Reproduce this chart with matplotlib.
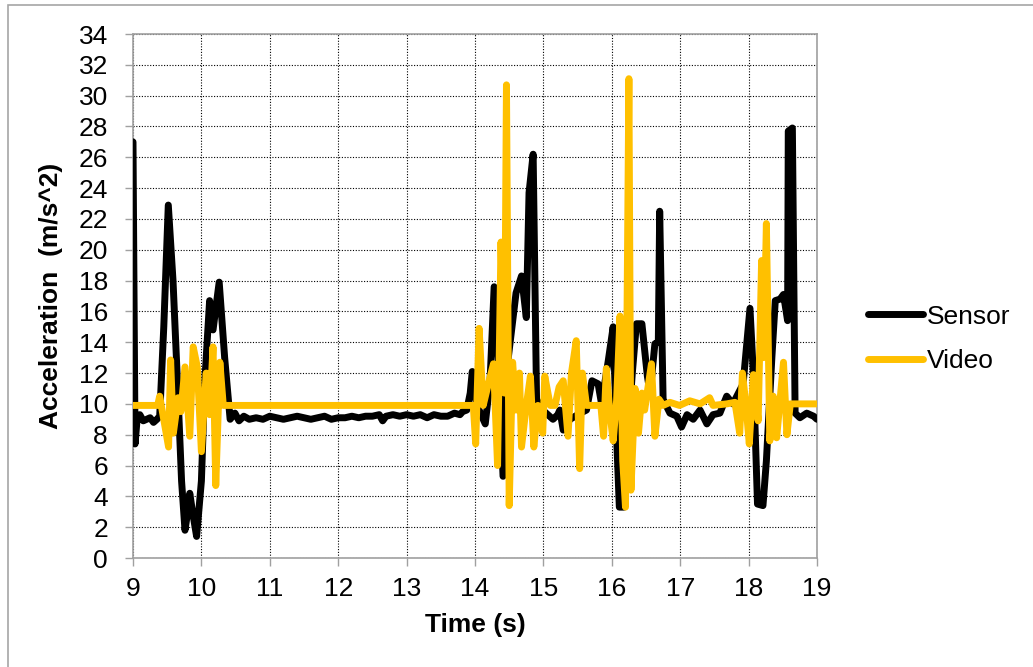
import matplotlib.pyplot as plt
from matplotlib.patches import Rectangle

plt.rcParams['font.family'] = ['Liberation Sans', 'DejaVu Sans']

# Sensor acceleration (time in s, value in m/s^2)
sensor_t = [9.00, 9.03, 9.06, 9.10, 9.15, 9.20, 9.25, 9.30, 9.35, 9.39, 9.45, 9.516,
            9.585, 9.66, 9.71, 9.76, 9.80, 9.83, 9.87, 9.93, 10.00, 10.05, 10.12, 10.17,
            10.26, 10.30, 10.34, 10.42, 10.49, 10.55, 10.62, 10.70, 10.80, 10.90, 11.00,
            11.10, 11.20, 11.30, 11.40, 11.50, 11.60, 11.70, 11.80, 11.90, 12.00, 12.10,
            12.20, 12.30, 12.40, 12.50, 12.60, 12.65, 12.70, 12.80, 12.90, 13.00, 13.10,
            13.20, 13.30, 13.40, 13.50, 13.60, 13.70, 13.78, 13.82, 13.88, 13.93, 13.96,
            14.02, 14.15, 14.22, 14.28, 14.34, 14.41, 14.46, 14.54, 14.60, 14.68, 14.75,
            14.79, 14.85, 14.90, 14.99, 15.14, 15.21, 15.24, 15.29, 15.39, 15.54, 15.63,
            15.71, 15.80, 15.85, 15.95, 16.02, 16.07, 16.11, 16.18, 16.22, 16.30, 16.36,
            16.44, 16.52, 16.56, 16.63, 16.68, 16.70, 16.75, 16.85, 16.95, 17.02, 17.10,
            17.19, 17.29, 17.39, 17.48, 17.58, 17.68, 17.77, 17.92, 18.02, 18.07, 18.13,
            18.21, 18.26, 18.34, 18.39, 18.46, 18.51, 18.57, 18.58, 18.64, 18.68, 18.75,
            18.85, 18.95, 19.00]
sensor_a = [27.0, 7.4, 9.0, 9.3, 8.9, 9.0, 9.1, 8.8, 9.0, 9.2, 15.0, 22.9,
            18.0, 10.4, 5.0, 1.8, 3.0, 4.2, 3.0, 1.4, 5.0, 11.5, 16.7, 14.8,
            17.9, 15.4, 13.0, 9.0, 9.4, 8.9, 9.2, 9.0, 9.1, 9.0, 9.2,
            9.1, 9.0, 9.1, 9.2, 9.1, 9.0, 9.1, 9.2, 9.0, 9.1, 9.1,
            9.2, 9.1, 9.2, 9.2, 9.3, 8.9, 9.2, 9.3, 9.2, 9.3, 9.2,
            9.3, 9.1, 9.3, 9.2, 9.2, 9.4, 9.3, 9.5, 9.6, 10.7, 12.1,
            10.0, 8.7, 11.5, 17.6, 12.9, 5.3, 12.0, 15.0, 17.2, 18.3, 15.6,
            23.7, 26.2, 10.3, 9.6, 9.0, 9.3, 9.6, 8.3, 9.0, 9.4, 9.6,
            11.5, 11.3, 10.0, 12.85, 15.0, 7.9, 3.3, 3.3, 7.0, 12.0, 15.2,
            15.2, 11.8, 10.7, 13.9, 14.0, 22.5, 10.3, 9.4, 9.2, 8.5, 9.3,
            9.0, 9.6, 8.7, 9.3, 9.4, 10.5, 10.0, 11.3, 16.2, 11.9, 3.5,
            3.4, 6.3, 13.0, 16.7, 16.8, 17.1, 15.4, 27.7, 27.9, 9.4, 9.1,
            9.4, 9.2, 9.0]

# Video-derived acceleration
video_t = [9.00, 9.36, 9.39, 9.52, 9.55, 9.59, 9.66, 9.70, 9.76, 9.83, 9.88, 9.94,
           10.00, 10.07, 10.12, 10.17, 10.21, 10.27, 10.32, 10.37, 13.975, 14.01, 14.06,
           14.12, 14.19, 14.27, 14.33, 14.38, 14.43, 14.46, 14.50, 14.55, 14.60, 14.65,
           14.68, 14.75, 14.81, 14.86, 14.92, 14.99, 15.02, 15.10, 15.17, 15.23, 15.29,
           15.36, 15.41, 15.48, 15.53, 15.57, 15.63, 15.84, 15.88, 15.92, 15.97, 16.02,
           16.07, 16.12, 16.16, 16.20, 16.25, 16.28, 16.34, 16.39, 16.44, 16.48, 16.58,
           16.63, 16.69, 16.75, 16.85, 16.99, 17.14, 17.29, 17.43, 17.48, 17.68, 17.80,
           17.87, 17.91, 17.96, 18.01, 18.07, 18.14, 18.19, 18.22, 18.26, 18.31, 18.36,
           18.41, 18.51, 18.56, 18.61, 19.00]
video_a = [9.9, 9.9, 10.5, 7.2, 12.85, 8.1, 10.4, 9.5, 12.4, 7.9, 13.7, 12.4,
           6.9, 12.0, 9.3, 13.7, 4.7, 12.7, 9.9, 9.9, 9.9, 7.4, 14.9,
           9.9, 11.2, 12.6, 6.0, 20.5, 10.7, 30.7, 3.4, 12.7, 9.6, 12.0,
           7.2, 9.9, 11.8, 7.2, 9.9, 8.1, 11.8, 9.9, 9.9, 11.1, 11.5,
           7.9, 12.0, 14.1, 5.8, 12.0, 9.9, 9.9, 7.9, 12.3, 9.5, 7.6,
           10.2, 15.7, 6.3, 3.3, 31.1, 4.4, 11.0, 8.1, 10.7, 9.6, 12.6,
           7.9, 10.3, 9.9, 10.1, 9.9, 10.2, 10.0, 10.4, 9.9, 10.0, 10.1,
           8.1, 12.0, 10.0, 7.4, 11.9, 8.9, 19.3, 13.0, 21.7, 7.6, 10.5,
           7.8, 12.7, 8.0, 10.0, 10.0]

x_ticks = list(range(9, 20))
y_ticks = list(range(0, 35, 2))

fig = plt.figure(figsize=(10.33, 6.67), dpi=100)
ax = fig.add_axes([133 / 1033, 109 / 667, 684 / 1033, 524 / 667])

ax.plot(sensor_t, sensor_a, color='black', lw=5, solid_joinstyle='round',
        solid_capstyle='round', label='Sensor', zorder=3)
ax.plot(video_t, video_a, color='#FFC000', lw=5, solid_joinstyle='round',
        solid_capstyle='round', label='Video', zorder=4)

ax.set_xlim(9, 19)
ax.set_ylim(0, 34)
ax.set_xticks(x_ticks)
ax.set_yticks(y_ticks)
ax.grid(True, color='black', linestyle=(0, (1, 1.5)), linewidth=0.8, zorder=0)
ax.set_axisbelow(True)

for s in ax.spines.values():
    s.set_color('#A0A0A0')
    s.set_linewidth(1.2)
ax.tick_params(axis='both', color='#A0A0A0', length=6, width=1, labelsize=19)
ax.tick_params(axis='y', pad=12)
ax.tick_params(axis='x', pad=8)

ax.set_xlabel('Time (s)', fontsize=19, fontweight='bold', labelpad=8)
ax.set_ylabel('Acceleration  (m/s^2)', fontsize=19, fontweight='bold', labelpad=11)

ax.legend(loc='center left', bbox_to_anchor=(0.817, 0.492), bbox_transform=fig.transFigure,
          frameon=False, fontsize=19, handlelength=2.1, handletextpad=0.15, labelspacing=0.78)

fig.patches.append(Rectangle((8 / 1033, -0.1), 1.2, 1.1 - 5 / 667, transform=fig.transFigure,
                             fill=False, edgecolor='#A6A6A6', linewidth=1.2))

fig.savefig('out.png', dpi=100)
